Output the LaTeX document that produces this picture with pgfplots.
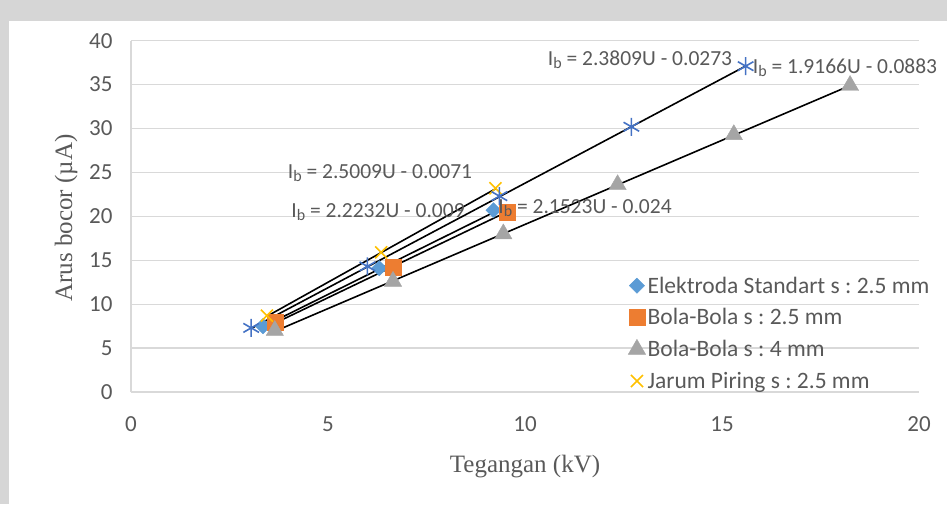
\documentclass[border=0pt]{standalone}
\usepackage{fontspec}
\setmainfont{Carlito}
\newfontfamily\tnr{Liberation Serif}
\usepackage{pgfplots}
\pgfplotsset{compat=1.18}
\usetikzlibrary{plotmarks}
\frenchspacing
\definecolor{txtgray}{HTML}{595959}
\definecolor{gridgray}{HTML}{D9D9D9}
\definecolor{bandgray}{HTML}{D6D6D6}
\definecolor{exblue}{HTML}{5B9BD5}
\definecolor{exorange}{HTML}{ED7D31}
\definecolor{exgray}{HTML}{A5A5A5}
\definecolor{exyellow}{HTML}{FFC000}
\definecolor{exstar}{HTML}{4472C4}
\newcommand{\eqn}[1]{I\raisebox{-0.12em}{\fontsize{16}{16}\selectfont b} = #1}

\begin{document}
\begin{tikzpicture}
\useasboundingbox (0pt,0pt) rectangle (947pt,504pt);
\fill[bandgray] (0pt,483pt) rectangle (947pt,504pt);
\fill[bandgray] (0pt,0pt) rectangle (9pt,504pt);
\begin{axis}[
  at={(131pt,112pt)}, anchor=south west,
  scale only axis, width=788pt, height=351.3pt,
  xmin=0, xmax=20, ymin=0, ymax=40,
  xtick={0,5,10,15,20}, ytick={0,5,...,40},
  axis x line=bottom, axis y line=left,
  axis line style={gridgray, line width=1.2pt, -},
  major tick length=0pt,
  ymajorgrids, grid style={gridgray, line width=1.2pt},
  /pgf/number format/assume math mode=true,
  tick label style={font=\fontsize{23}{27}\selectfont, text=txtgray},
  yticklabel style={xshift=-15pt},
  xticklabel style={yshift=-21pt},
  clip=false,
  legend style={at={(0.627,0.34)}, anchor=north west, draw=none, fill=none,
    font=\fontsize{23.5}{28}\selectfont, text=txtgray, row sep=10pt,
    nodes={inner sep=2pt}},
  legend cell align=left,
]
\addplot[only marks, mark=square*, mark size=5.4pt, exblue, mark options={fill=exblue, draw=exblue, rotate=45}]
  coordinates {(3.35,7.5) (6.3,14.1) (9.2,20.7)};
\addlegendentry{Elektroda Standart s : 2.5 mm}
\addplot[only marks, mark=square*, mark size=8pt, exorange, mark options={fill=exorange, draw=exorange}]
  coordinates {(3.65,7.9) (6.65,14.2) (9.55,20.5)};
\addlegendentry{Bola-Bola s : 2.5 mm}
\addplot[only marks, mark=triangle*, mark size=10pt, exgray, mark options={fill=exgray, draw=exgray}]
  coordinates {(3.65,7.0) (6.65,12.6) (9.45,18.0) (12.35,23.6) (15.3,29.3) (18.25,34.9)};
\addlegendentry{Bola-Bola s : 4 mm}
\addplot[only marks, mark=x, mark size=8.5pt, exyellow, mark options={line width=1.6pt}]
  coordinates {(3.45,8.7) (6.35,15.9) (9.25,23.2)};
\addlegendentry{Jarum Piring s : 2.5 mm}
\addplot[only marks, mark=asterisk, mark size=9pt, exstar, mark options={line width=1.6pt}, forget plot]
  coordinates {(3.05,7.3) (6.0,14.3) (9.35,22.3) (12.7,30.2) (15.6,37.1)};
% trendlines
\addplot[black, line width=1.6pt, forget plot] coordinates {(3.45,8.62) (9.25,23.13)};
\addplot[black, line width=1.6pt, forget plot] coordinates {(3.05,7.23) (15.6,37.11)};
\addplot[black, line width=1.6pt, forget plot] coordinates {(3.35,7.44) (9.2,20.44)};
\addplot[black, line width=1.6pt, forget plot] coordinates {(3.65,7.83) (9.55,20.53)};
\addplot[black, line width=1.6pt, forget plot] coordinates {(3.65,6.91) (18.25,34.89)};
\end{axis}
\begin{scope}[every node/.style={text=txtgray, font=\fontsize{21.5}{25}\selectfont}]
\node at (380pt,331pt) {\eqn{2.5009U - 0.0071}};
\node at (378pt,292pt) {\eqn{2.2232U - 0.009}};
\node at (585pt,296pt) {\eqn{2.1523U - 0.024}};
\node at (640pt,444pt) {\eqn{2.3809U - 0.0273}};
\node at (845pt,436pt) {\eqn{1.9166U - 0.0883}};
\end{scope}
\node[text=txtgray, font=\tnr\fontsize{25}{30}\selectfont] at (525pt,37pt) {Tegangan (kV)};
\node[text=txtgray, font=\tnr\fontsize{25}{30}\selectfont, rotate=90] at (66pt,286pt) {Arus bocor (µA)};
\end{tikzpicture}
\end{document}
